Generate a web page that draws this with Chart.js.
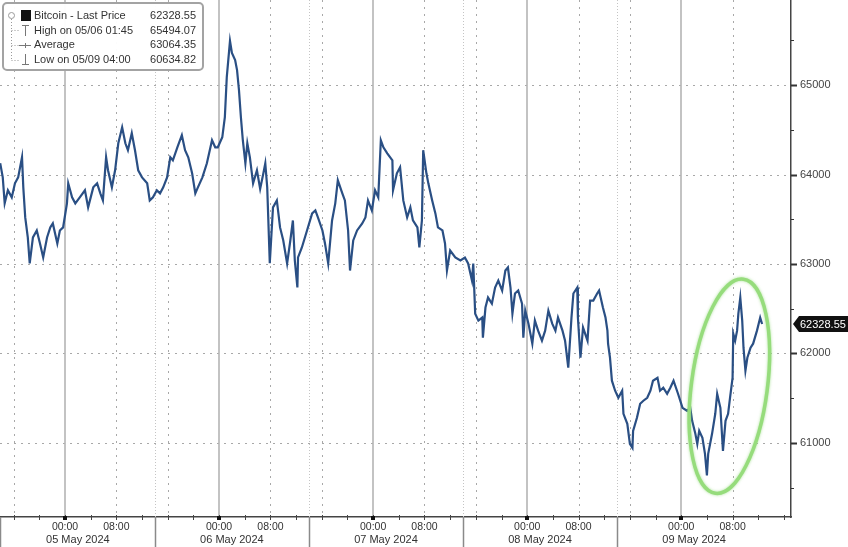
<!DOCTYPE html>
<html><head><meta charset="utf-8">
<script src="https://cdn.jsdelivr.net/npm/chart.js@4.4.1/dist/chart.umd.min.js"></script>
<style>html,body{margin:0;padding:0;background:#fff;}canvas{display:block;}</style>
</head><body>
<canvas id="c" width="848" height="547"></canvas>
<script>
// hours relative to 05 May 2024 00:00
const hours = [
-10.1,-9.7,-9.4,-8.9,-8.3,-7.8,-7.3,-6.7,-6.5,-6.2,-5.8,-5.5,-5.0,-4.4,-3.9,-3.4,-2.8,-2.3,-1.9,-1.2,-0.8,-0.3,
0.3,0.5,1.1,1.6,2.3,3.1,3.6,4.4,5.0,5.5,5.9,6.4,6.7,7.3,7.8,8.3,8.9,9.4,9.8,10.4,10.9,11.4,12.0,12.8,13.2,13.7,14.3,14.8,15.3,15.9,16.4,16.8,17.5,18.2,18.7,19.2,19.8,20.3,20.7,21.4,22.1,22.9,23.4,23.8,
24.5,24.9,25.2,25.7,26.0,26.5,26.8,27.1,27.4,27.7,28.1,28.4,28.8,29.3,29.9,30.4,30.9,31.2,31.5,31.9,32.4,33.0,33.5,34.0,34.6,35.1,35.5,35.8,36.2,36.3,36.9,37.7,38.5,39.0,39.4,40.1,40.5,41.0,41.6,42.1,42.5,43.2,43.6,44.1,44.4,44.9,45.5,46.3,46.8,47.2,47.8,
48.3,48.8,49.2,49.6,50.2,51.0,51.1,51.7,52.2,52.7,53.3,53.8,54.2,54.9,55.2,55.6,55.8,56.3,56.6,57.2,57.7,58.1,58.8,59.2,59.5,60.0,60.8,61.6,62.3,62.8,63.4,63.6,63.9,64.4,65.0,65.1,65.5,65.9,66.5,67.0,67.5,68.1,68.6,69.0,69.4,69.7,70.1,70.6,71.2,71.4,71.7,
72.2,72.8,73.2,73.7,74.3,74.8,75.3,75.9,76.4,76.8,77.5,77.9,78.4,78.9,79.2,79.8,79.9,80.3,80.7,81.4,81.8,82.3,82.9,83.2,83.8,84.2,84.5,84.6,84.9,85.2,85.7,86.2,86.8,87.0,87.6,88.0,88.4,88.5,89.1,89.6,90.1,90.7,91.2,91.6,92.3,92.7,93.2,93.8,94.3,94.8,95.5,
96.2,96.9,97.4,97.7,98.2,98.5,98.8,99.3,99.7,100.0,100.2,100.8,101.3,101.6,102.1,102.5,102.9,103.3,103.6,104.0,104.1,104.4,104.7,104.9,105.2,105.5,105.7,106.0,106.3,106.8,107.2,107.8,108.3,108.6
];
const prices = [
64126,63969,63678,63824,63745,63902,63969,64193,63857,63521,63297,63006,63297,63375,63230,63073,63297,63409,63454,63230,63375,63409,
63678,63902,63745,63678,63745,63824,63633,63857,63902,63790,63711,64193,64048,63857,64048,64350,64529,64350,64272,64462,64272,64048,63969,63902,63711,63745,63824,63790,63857,63969,64193,64160,64305,64440,64272,64193,64014,63790,63857,63969,64126,64384,64305,64305,
64417,64641,65090,65494,65359,65280,65168,64944,64641,64384,64126,64350,64193,63902,64048,63840,64014,64126,63857,63010,63633,63711,63409,63263,63006,63263,63487,63039,62737,63073,63185,63375,63566,63599,63521,63375,63230,63006,63487,63678,63936,63790,63711,63375,62927,63263,63375,63454,63521,63711,63599,
63824,63745,64384,64305,64238,64160,63824,64014,64081,63711,63521,63633,63487,63409,63185,63487,64272,64014,63902,63711,63566,63409,63375,63230,62927,63151,63073,63039,63073,63006,62815,63006,62445,62367,62401,62177,62513,62625,62557,62737,62815,62703,62927,62961,62737,62445,62670,62703,62557,62177,62479,
62333,62109,62367,62255,62143,62255,62479,62333,62255,62401,62255,62143,61840,62401,62670,62737,62401,61952,62289,62143,62591,62591,62670,62703,62513,62401,62255,62109,61952,61695,61583,61504,61583,61325,61213,60989,60944,61134,61280,61437,61471,61504,61583,61695,61728,61583,61616,61549,61616,61695,61549,
61392,61359,61392,61246,61101,60989,61134,61056,60877,60635,60877,61101,61325,61549,61392,60910,61246,61325,61504,61728,62221,62143,62255,62445,62625,62367,62064,61807,61952,62064,62109,62255,62401,62329
];
const yTickValues = [61000, 62000, 63000, 64000, 65000];
const xTickHours = [0, 8, 24, 32, 48, 56, 72, 80, 96, 104];
const dayStarts = [0, 24, 48, 72, 96];
const dayLabels = ['05 May 2024', '06 May 2024', '07 May 2024', '08 May 2024', '09 May 2024'];
const dottedHours = [-8, 8, 16, 32, 40, 56, 64, 80, 88, 104];
const separatorHours = [14, 38, 62, 86];
const segmentCenters = [2, 26, 50, 74, 98];
const legendLabels = ['Bitcoin - Last Price', 'High on 05/06 01:45', 'Average', 'Low on 05/09 04:00'];
const legendValues = ['62328.55', '65494.07', '63064.35', '60634.82'];
const lastPrice = 62328.55;
const lastPriceText = '62328.55';
const highlight = {h: 103.5, v: 61633};

const FONT = '"Liberation Sans", Arial, sans-serif';

function seg(ctx, x1, y1, x2, y2) { ctx.beginPath(); ctx.moveTo(x1, y1); ctx.lineTo(x2, y2); ctx.stroke(); }
function noPad(s) { s.paddingTop = 0; s.paddingBottom = 0; s.paddingLeft = 0; s.paddingRight = 0; }

const decor = {
  id: 'decor',
  beforeDatasetsDraw(chart) {
    const {ctx, chartArea: a, scales: {x, y}} = chart;
    ctx.save();
    ctx.beginPath(); ctx.rect(a.left, a.top, a.right - a.left, a.bottom - a.top); ctx.clip();
    ctx.lineWidth = 1;
    ctx.strokeStyle = '#a8a8a8'; ctx.setLineDash([2, 5]);
    yTickValues.forEach(v => { const p = Math.round(y.getPixelForValue(v)) + 0.5; seg(ctx, a.left, p, a.right, p); });
    dottedHours.forEach(h => { const p = Math.round(x.getPixelForValue(h)) + 0.5; seg(ctx, p, a.top, p, a.bottom); });
    ctx.strokeStyle = '#c4c4c4'; ctx.setLineDash([1, 2]);
    separatorHours.forEach(h => { const p = Math.round(x.getPixelForValue(h)) + 0.5; seg(ctx, p, a.top, p, a.bottom); });
    ctx.setLineDash([]); ctx.strokeStyle = '#b4b4b4'; ctx.lineWidth = 1.6;
    dayStarts.forEach(h => { const p = Math.round(x.getPixelForValue(h)); seg(ctx, p, a.top, p, a.bottom); });
    ctx.restore();
  },
  afterDatasetsDraw(chart) {
    const {ctx, scales: {x, y}} = chart;
    ctx.save();
    ctx.strokeStyle = '#96dc7c'; ctx.lineWidth = 3.5;
    ctx.shadowColor = 'rgba(140,215,115,0.7)'; ctx.shadowBlur = 3;
    ctx.beginPath();
    ctx.ellipse(x.getPixelForValue(highlight.h), y.getPixelForValue(highlight.v), 38, 108, 0.13, 0, Math.PI * 2);
    ctx.stroke();
    ctx.restore();
  },
  afterDraw(chart) {
    const {ctx, chartArea: a, scales: {x, y}} = chart;
    ctx.save();
    ctx.strokeStyle = '#444'; ctx.lineWidth = 1;
    for (let h = -8; h <= 112; h += 4) {
      const p = Math.round(x.getPixelForValue(h)) + 0.5;
      seg(ctx, p, a.bottom - 2, p, a.bottom + 3);
    }
    ctx.fillStyle = '#111';
    dayStarts.forEach(h => { const p = Math.round(x.getPixelForValue(h)); ctx.fillRect(p - 2, a.bottom - 1, 4, 4); });
    ctx.strokeStyle = '#8a8a8a'; ctx.lineWidth = 1.5;
    [a.left + 0.5].concat(separatorHours.map(h => Math.round(x.getPixelForValue(h)) + 0.5)).forEach(p => seg(ctx, p, a.bottom, p, 547));
    ctx.fillStyle = '#333'; ctx.font = '11px ' + FONT; ctx.textAlign = 'center'; ctx.textBaseline = 'middle';
    segmentCenters.forEach((h, i) => ctx.fillText(dayLabels[i], x.getPixelForValue(h), 540));
    ctx.strokeStyle = '#333';
    for (let v = 60500; v <= 65500; v += 500) {
      const p = Math.round(y.getPixelForValue(v)) + 0.5;
      if (p < a.top || p > a.bottom) continue;
      const major = v % 1000 === 0;
      ctx.lineWidth = major ? 2 : 1;
      seg(ctx, a.right, p, a.right + (major ? 6 : 3), p);
    }
    const py = Math.round(y.getPixelForValue(lastPrice));
    ctx.fillStyle = '#111';
    ctx.beginPath();
    ctx.moveTo(a.right + 2, py); ctx.lineTo(a.right + 8, py - 8); ctx.lineTo(848, py - 8);
    ctx.lineTo(848, py + 8); ctx.lineTo(a.right + 8, py + 8); ctx.closePath(); ctx.fill();
    ctx.fillStyle = '#fff'; ctx.font = '11px ' + FONT; ctx.textAlign = 'left'; ctx.textBaseline = 'middle';
    ctx.fillText(lastPriceText, a.right + 9, py + 0.5);
    ctx.fillStyle = 'rgba(255,255,255,0.96)'; ctx.strokeStyle = '#a3a3a3'; ctx.lineWidth = 2;
    ctx.beginPath(); ctx.roundRect(3, 3, 200, 67, 4); ctx.fill(); ctx.stroke();
    const rows = [16, 30.5, 45, 60];
    ctx.font = '11px ' + FONT; ctx.textBaseline = 'middle';
    rows.forEach((ry, i) => {
      ctx.fillStyle = '#333'; ctx.textAlign = 'left'; ctx.fillText(legendLabels[i], 34, ry);
      ctx.textAlign = 'right'; ctx.fillText(legendValues[i], 196, ry);
    });
    ctx.strokeStyle = '#9a9a9a'; ctx.lineWidth = 1;
    ctx.beginPath(); ctx.arc(11.5, 15.5, 3, 0, Math.PI * 2); ctx.stroke();
    ctx.setLineDash([1, 2]);
    seg(ctx, 11.5, 19, 11.5, 60.5);
    seg(ctx, 11.5, 30.5, 19, 30.5); seg(ctx, 11.5, 45.5, 19, 45.5); seg(ctx, 11.5, 60.5, 19, 60.5);
    ctx.setLineDash([]);
    ctx.fillStyle = '#111'; ctx.fillRect(21, 10, 10, 11);
    ctx.strokeStyle = '#777';
    seg(ctx, 25.5, 25, 25.5, 36); seg(ctx, 22, 25.5, 29, 25.5);
    seg(ctx, 19, 45.5, 31, 45.5); seg(ctx, 25.5, 43, 25.5, 48);
    seg(ctx, 25.5, 54, 25.5, 65); seg(ctx, 22, 64.5, 29, 64.5);
    ctx.restore();
  }
};

new Chart(document.getElementById('c'), {
  type: 'line',
  data: {
    datasets: [{
      label: 'Bitcoin - Last Price',
      data: hours.map((h, i) => ({x: h, y: prices[i]})),
      borderColor: '#2a4f84',
      borderWidth: 2.2,
      pointRadius: 0,
      tension: 0,
      fill: false
    }]
  },
  options: {
    responsive: false,
    animation: false,
    layout: {padding: 0},
    plugins: {legend: {display: false}, tooltip: {enabled: false}},
    scales: {
      x: {
        type: 'linear', position: 'bottom', min: -10.13, max: 113.1,
        afterBuildTicks: s => { s.ticks = xTickHours.map(v => ({value: v})); },
        afterFit: s => { s.height = 30; noPad(s); },
        grid: {display: false, drawTicks: false},
        border: {display: true, color: '#444', width: 1.5},
        ticks: {
          autoSkip: false, maxRotation: 0, padding: 4, color: '#333',
          font: {family: FONT, size: 10.5},
          callback: v => (v % 24 === 0 ? '00:00' : '08:00')
        }
      },
      y: {
        type: 'linear', position: 'right', min: 60171, max: 65952,
        afterBuildTicks: s => { s.ticks = yTickValues.map(v => ({value: v})); },
        afterFit: s => { s.width = 57; noPad(s); },
        grid: {display: false, drawTicks: false},
        border: {display: true, color: '#444', width: 1.5},
        ticks: {padding: 9, color: '#444', font: {family: FONT, size: 11}, callback: v => String(v)}
      }
    }
  },
  plugins: [decor]
});
</script>
</body></html>
